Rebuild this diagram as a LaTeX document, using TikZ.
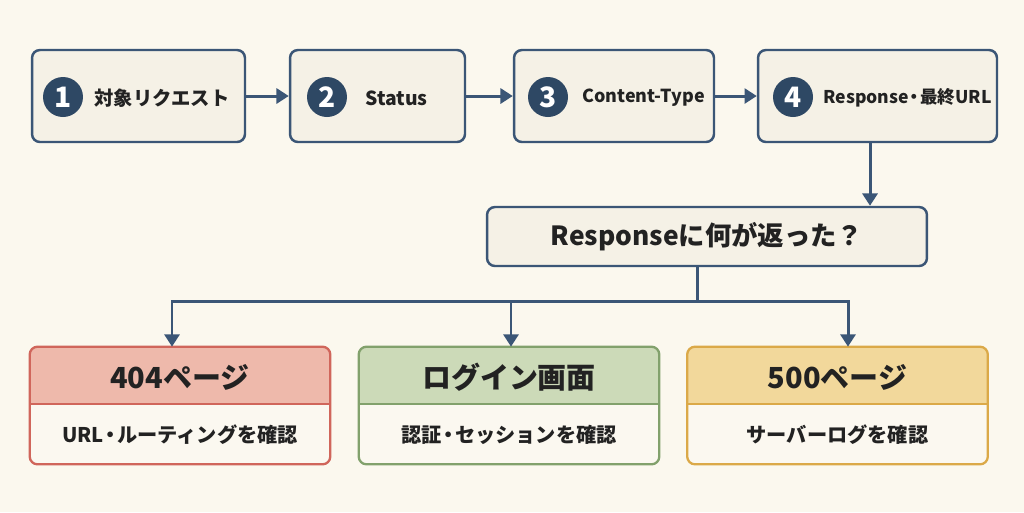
\documentclass[tikz,border=0pt]{standalone}
\usepackage{fontspec}
\setmainfont{Noto Sans CJK JP}
\usetikzlibrary{arrows.meta}

\definecolor{paper}{HTML}{FBF8EE}
\definecolor{boxfill}{HTML}{F5F1E6}
\definecolor{navy}{HTML}{3B5676}
\definecolor{dot}{HTML}{2E4864}
\definecolor{redline}{HTML}{D0665B}
\definecolor{redhead}{HTML}{EEB9AB}
\definecolor{greenline}{HTML}{82A16C}
\definecolor{greenhead}{HTML}{CCDAB8}
\definecolor{goldline}{HTML}{DBA948}
\definecolor{goldhead}{HTML}{F2D89B}
\definecolor{lowfill}{HTML}{FBF8F0}
\definecolor{ink}{HTML}{222222}

\tikzset{
  stepbox/.style={draw=navy, line width=1.4pt, fill=boxfill, rounded corners=4.5pt,
    minimum height=1.84cm},
  numdot/.style={circle, fill=dot, text=white, minimum size=0.8cm, inner sep=0pt,
    font=\bfseries\fontsize{16}{16}\selectfont},
  steptext/.style={anchor=west, inner sep=0pt, text=ink,
    font=\bfseries\fontsize{11}{11}\selectfont},
  arr/.style={draw=navy, line width=1.7pt, -{Triangle[length=7pt,width=8.5pt]}},
  resultbox/.style={rounded corners=4.5pt, minimum width=6cm, minimum height=2.34cm},
  headtext/.style={text=ink, font=\bfseries\fontsize{16.5}{16.5}\selectfont},
  subtext/.style={text=ink, font=\bfseries\fontsize{11.5}{11.5}\selectfont},
}
\newcommand{\middot}{\hspace{-0.17em}・\hspace{-0.17em}}

\begin{document}
\begin{tikzpicture}[x=0.02cm, y=-0.02cm]
    \fill[paper] (0,0) rectangle (1024,512);
    \useasboundingbox (0,0) rectangle (1024,512);

    % steps
    \node[stepbox, minimum width=4.26cm] (s1) at (138.5,96) {};
    \node[stepbox, minimum width=3.5cm] (s2) at (377.5,96) {};
    \node[stepbox, minimum width=4cm] (s3) at (614,96) {};
    \node[stepbox, minimum width=4.78cm] (s4) at (877.5,96) {};

    \node[numdot] (n1) at (63,97) {1};
      \node[steptext] (t1) at (94,98) {対象リクエスト};
    \node[numdot] (n2) at (327,97) {2};
      \node[steptext] (t2) at (365,98) {Status};
    \node[numdot] (n3) at (548,97) {3};
      \node[steptext, font=\bfseries\fontsize{10.2}{10.2}\selectfont] (t3) at (582,98) {Content-Type};
    \node[numdot] (n4) at (793,97) {4};
      \node[steptext, font=\bfseries\fontsize{10}{10}\selectfont] (t4) at (823,98) {Response\middot 最終URL};

    \draw[arr] (s1) -- (s2);
    \draw[arr] (s2) -- (s3);
    \draw[arr] (s3) -- (s4);

    % question
    \node[stepbox, minimum width=8.8cm, minimum height=1.18cm,
      font=\bfseries\fontsize{15}{15}\selectfont, text=ink] (q) at (707,236.5)
      {Responseに何が返った？};
    \draw[arr] ([xshift=-0.15cm]s4.south) -- ([xshift=-0.15cm]q.north -| s4.south);

    % results
    \foreach \name/\cx/\line/\head/\top/\bottom in {
        a/180/redline/redhead/404ページ/URL\middot ルーティングを確認,
        b/509/greenline/greenhead/ログイン画面/認証\middot セッションを確認,
        c/837.5/goldline/goldhead/500ページ/サーバーログを確認} {
      \node[resultbox, fill=lowfill] (\name) at (\cx,405.5) {};
      \begin{scope}
        \clip[rounded corners=4.5pt] (\name.north west) rectangle (\name.south east);
        \fill[\head] (\name.north west) rectangle ([yshift=-1.14cm]\name.north east);
      \end{scope}
      \draw[\line, line width=1.3pt] ([yshift=-1.14cm]\name.north west)
        -- ([yshift=-1.14cm]\name.north east);
      \draw[\line, line width=1.3pt, rounded corners=4.5pt]
        (\name.north west) rectangle (\name.south east);
      \node[headtext] (\name h) at (\cx,377) {\top};
      \node[subtext] (\name s) at (\cx,435) {\bottom};
    }

    \draw[navy, line width=1.7pt] ([xshift=-0.2cm]q.south) -- ++(0,34) coordinate (split);
    \draw[arr] (split) -| ([xshift=-0.16cm]a.north);
    \draw[arr] (split) -| ([xshift=0.04cm]b.north);
    \draw[arr] (split) -| ([xshift=0.21cm]c.north);
\end{tikzpicture}
\end{document}
